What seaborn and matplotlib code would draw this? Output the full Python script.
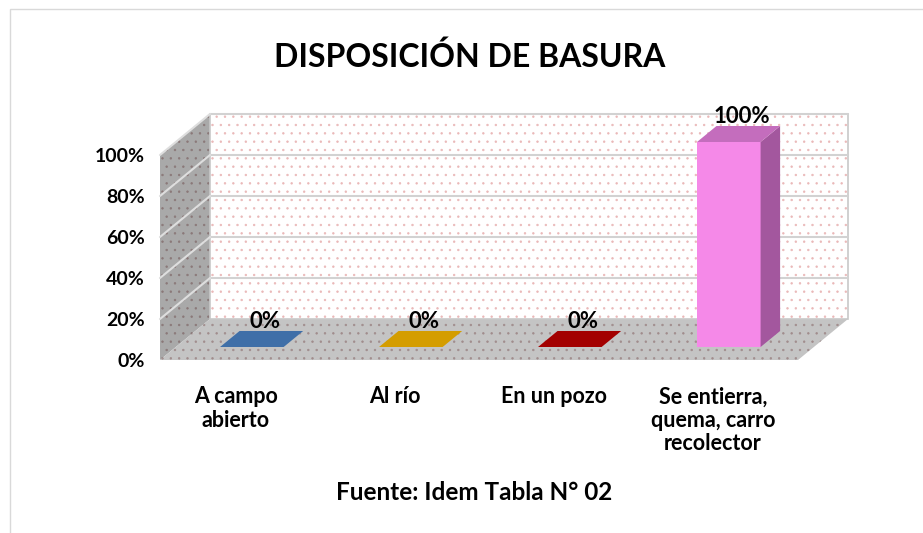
import pandas as pd
import matplotlib
matplotlib.use("Agg")
import matplotlib.pyplot as plt
import matplotlib.transforms as mtransforms
from matplotlib.patches import Polygon, Rectangle
import seaborn as sns

# Data
categories = ["A campo\nabierto", "Al río", "En un pozo", "Se entierra,\nquema, carro\nrecolector"]
values = [0, 0, 0, 100]
value_labels = ["0%", "0%", "0%", "100%"]
bar_colors = ["#3f6fa8", "#d49d00", "#a30000", "#f589e8"]
top_colors = ["#3f6fa8", "#d49d00", "#a30000", "#c46dbd"]
side_colors = ["#2c4f78", "#9a7200", "#740000", "#a3579e"]
y_ticks = [0, 20, 40, 60, 80, 100]
y_tick_labels = ["0%", "20%", "40%", "60%", "80%", "100%"]
title = "DISPOSICIÓN DE BASURA"
source = "Fuente: Idem Tabla N° 02"

sns.set_style("white")
plt.rcParams['font.family'] = ['Lato', 'DejaVu Sans']
plt.rcParams['hatch.linewidth'] = 0.5
plt.rcParams['text.color'] = 'black'
plt.rcParams['xtick.color'] = 'black'
plt.rcParams['ytick.color'] = 'black'

fig = plt.figure(figsize=(9.23, 5.33), dpi=100)
ax = fig.add_axes([160 / 923, 173 / 533, 638 / 923, 205 / 533])
ax.set_facecolor("none")

df = pd.DataFrame({"cat": categories, "val": values})
sns.barplot(data=df, x="cat", y="val", hue="cat", palette=bar_colors,
            width=0.4, legend=False, ax=ax, saturation=1)
ax.set_xlim(-0.478, 3.535)
ax.set_ylim(0, 100)
x0, x1 = ax.get_xlim()

# depth of the 3D box in pixels (right, up)
DX, DY = 50, 41
t_front, t_back = 13 / 41, 29 / 41


def proj(x, y, t):
    px, py = ax.transData.transform((x, y))
    return ax.transData.inverted().transform((px + t * DX, py + t * DY))


def face(pts, **kw):
    poly = Polygon([proj(*p) for p in pts], closed=True, clip_on=False, **kw)
    ax.add_patch(poly)
    return poly


# back wall, left wall, floor
face([(x0, 0, 1), (x1, 0, 1), (x1, 100, 1), (x0, 100, 1)],
     facecolor="white", edgecolor="#eab8b8", hatch="..", lw=0, zorder=0)
face([(x0, 0, 1), (x1, 0, 1), (x1, 100, 1), (x0, 100, 1)],
     facecolor="none", edgecolor="#c8c8c8", lw=1.2, zorder=1)
face([(x0, 0, 0), (x0, 0, 1), (x0, 100, 1), (x0, 100, 0)],
     facecolor="#a9a9a9", edgecolor="#8a7878", hatch="..", lw=0, zorder=0)
face([(x0, 0, 0), (x1, 0, 0), (x1, 0, 1), (x0, 0, 1)],
     facecolor="#c4c4c4", edgecolor="#a08c8c", hatch="..", lw=0, zorder=0.5)

for yv in y_ticks[1:]:
    a, b = proj(x0, yv, 1), proj(x1, yv, 1)
    ax.plot([a[0], b[0]], [a[1], b[1]], color="#d2d2d2", lw=1.5, clip_on=False, zorder=1)
    c = proj(x0, yv, 0)
    ax.plot([c[0], a[0]], [c[1], a[1]], color="#dedede", lw=1.5, clip_on=False, zorder=1)

# turn the flat seaborn bars into boxes
shift = mtransforms.ScaledTranslation(t_front * DX / 100, t_front * DY / 100, fig.dpi_scale_trans)
bars = sorted(ax.patches[:len(values)], key=lambda p: p.get_x())
for i, bar in enumerate(bars):
    bx, bw, bh = bar.get_x(), bar.get_width(), bar.get_height()
    bar.set_transform(ax.transData + shift)
    bar.set_zorder(5)
    bar.set_clip_on(False)
    bar.set_linewidth(0)
    if bh > 0:
        face([(bx + bw, 0, t_front), (bx + bw, 0, t_back), (bx + bw, bh, t_back), (bx + bw, bh, t_front)],
             facecolor=side_colors[i], lw=0, zorder=5)
    face([(bx, bh, t_front), (bx + bw, bh, t_front), (bx + bw, bh, t_back), (bx, bh, t_back)],
         facecolor=top_colors[i], lw=0, zorder=5)
    mid = (t_front + t_back) / 2
    ax.annotate(value_labels[i], xy=(bx + bw / 2, bh),
                xytext=((mid * DX + 3) * 0.72, (t_back * DY - 1) * 0.72),
                textcoords="offset points", ha="center", va="bottom",
                fontsize=16, fontweight="bold", color="black", zorder=6)

ax.set_yticks(y_ticks, y_tick_labels)
ax.tick_params(axis="y", length=0, pad=11, labelsize=14)
ax.tick_params(axis="x", length=0, pad=19, labelsize=15.5)
for lab in ax.get_yticklabels() + ax.get_xticklabels():
    lab.set_fontweight("bold")
for lab in ax.get_xticklabels():
    lab.set_linespacing(1.15)
ax.set_xlabel("")
ax.set_ylabel("")
sns.despine(ax=ax, left=True, bottom=True)

fig.text(470 / 923, 1 - 57 / 533, title, ha="center", va="center",
         fontsize=23, fontweight="bold")
fig.text(474 / 923, 1 - 493 / 533, source, ha="center", va="center",
         fontsize=17.5, fontweight="bold")

# outer chart border
fig.add_artist(Rectangle((10 / 923, -0.05), 1.2, 1 - 9 / 533 + 0.05,
                         transform=fig.transFigure, fill=False,
                         edgecolor="#d9d9d9", lw=1))

fig.savefig("out.png", dpi=100)
